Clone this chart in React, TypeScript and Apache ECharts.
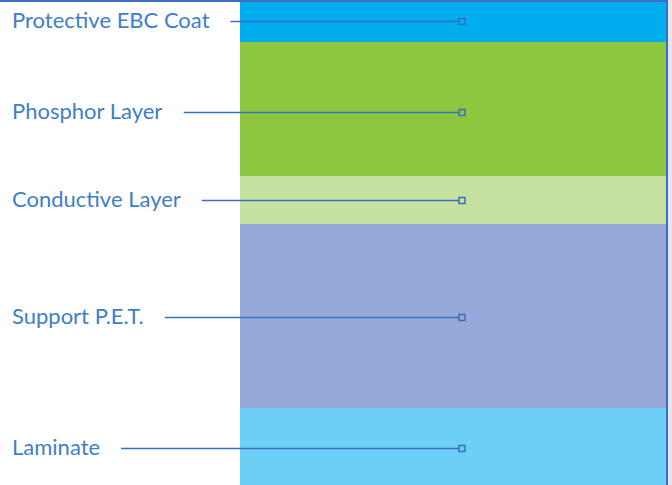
import React, { useEffect, useRef } from "react";
import * as echarts from "echarts";

const layerNames = ["Protective EBC Coat", "Phosphor Layer", "Conductive Layer", "Support P.E.T.", "Laminate"];
const layerThickness = [42, 134, 48, 184, 77];
const layerColors = ["#00AEEF", "#8DC63F", "#C5E09F", "#97A9D8", "#6DCFF6"];
const labelOffsets = [0, 3, 0, 1, 1];
const category = ["Screen"];

const TEXT_COLOR = "#3F7EC8";
const LINE_COLOR = "#3A6FC0";
const FONT_FAMILY = "Lato";
const FONT_SIZE = 22;

export default function App() {
  const ref = useRef<HTMLDivElement>(null);
  useEffect(() => {
    if (!ref.current) return;
    const chart = echarts.init(ref.current, null, { renderer: "svg" });

    const canvas = document.createElement("canvas");
    const ctx = canvas.getContext("2d")!;
    ctx.font = `${FONT_SIZE}px ${FONT_FAMILY}`;
    const widths = layerNames.map((n) => ctx.measureText(n).width);

    const total = layerThickness.reduce((a, b) => a + b, 0);
    const mids: number[] = [];
    let acc = 0;
    layerThickness.forEach((t) => {
      mids.push(acc + t / 2);
      acc += t;
    });

    const barSeries = layerNames.map((name, i) => ({
      name,
      type: "bar",
      stack: "layers",
      barWidth: "100%",
      data: [layerThickness[i]],
      itemStyle: { color: layerColors[i] },
      silent: true,
    }));

    chart.setOption({
      animation: false,
      grid: { left: 240, right: 6, top: 0, bottom: 0 },
      xAxis: {
        type: "category",
        data: category,
        show: false,
        boundaryGap: true,
      },
      yAxis: {
        type: "value",
        inverse: true,
        min: 0,
        max: total,
        show: false,
      },
      series: [
        ...barSeries,
        {
          type: "custom",
          clip: false,
          z: 10,
          data: mids.map((m, i) => [0, m + labelOffsets[i]]),
          renderItem: (params: any, api: any) => {
            const idx = params.dataIndex;
            const pt = api.coord([0, api.value(1)]);
            const cs = params.coordSys;
            const y = Math.round(pt[1]) + 0.5;
            const textX = 12;
            const markerX = cs.x + 222;
            const lineStart = textX + widths[idx] + 21;
            return {
              type: "group",
              children: [
                {
                  type: "text",
                  style: {
                    x: textX,
                    y: y - 2,
                    text: layerNames[idx],
                    fill: TEXT_COLOR,
                    fontSize: FONT_SIZE,
                    fontFamily: FONT_FAMILY,
                    align: "left",
                    verticalAlign: "middle",
                  },
                },
                {
                  type: "line",
                  shape: { x1: lineStart, y1: y, x2: markerX - 3, y2: y },
                  style: { stroke: LINE_COLOR, lineWidth: 1.5 },
                },
                {
                  type: "rect",
                  shape: { x: markerX - 3, y: y - 3, width: 6, height: 6 },
                  style: { stroke: LINE_COLOR, fill: "none", lineWidth: 1.5 },
                },
              ],
            };
          },
        },
      ],
      graphic: [
        { type: "rect", left: 0, top: 0, shape: { width: 672, height: 2 }, style: { fill: "#3D6FBF" }, z: 20 },
        { type: "rect", left: 666, top: 0, shape: { width: 2, height: 485 }, style: { fill: "#3A6FC4" }, z: 20 },
        { type: "rect", left: 668, top: 0, shape: { width: 4, height: 485 }, style: { fill: "#E6E6F2" }, z: 20 },
      ],
    });
    return () => chart.dispose();
  }, []);
  return (
    <div
      ref={ref}
      style={{ position: "fixed", left: 0, top: 0, width: 672, height: 485, background: "#FFFFFF" }}
    />
  );
}
